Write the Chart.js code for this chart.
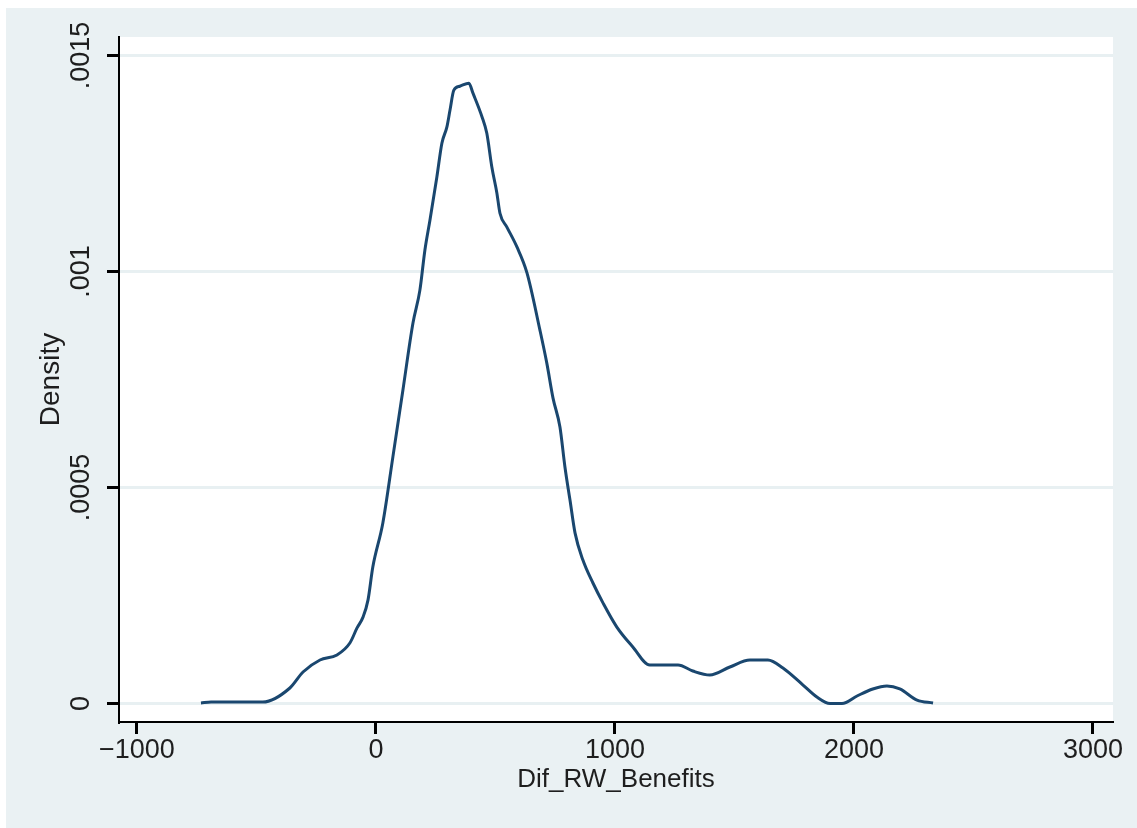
<!DOCTYPE html>
<html>
<head>
<meta charset="utf-8">
<script src="https://cdn.jsdelivr.net/npm/chart.js@4/dist/chart.umd.min.js"></script>
<style>
  html, body { margin: 0; padding: 0; background: #ffffff; }
  #frame { position: absolute; left: 6px; top: 8px; width: 1131px; height: 820px; background: #eaf1f3; }
  canvas { display: block; }
</style>
</head>
<body>
<div id="frame"><canvas id="densityChart" width="1131" height="820"></canvas></div>
<script>
// Densidade (kernel)
const densityX = [-732, -690, -473, -360, -305, -234, -163, -109, -79, -54,
    -33, -13, 29, 71, 113, 155, 184, 205, 226, 255,
    276, 297, 310, 326, 351, 389, 406, 444, 464, 485,
    506, 519, 548, 590, 632, 686, 715, 741, 770, 791,
    812, 833, 866, 908, 950, 1008, 1075, 1146, 1264, 1326,
    1397, 1481, 1565, 1640, 1703, 1787, 1845, 1900, 1950, 2013,
    2079, 2138, 2192, 2264, 2331];
const densityY = [0.0000012, 0.0000035, 0.0000035, 0.0000359, 0.0000729, 0.0001007, 0.0001123, 0.00014, 0.000175, 0.0002,
    0.00024, 0.000316, 0.000418, 0.000571, 0.000726, 0.000881, 0.000957, 0.00105, 0.001119, 0.001219,
    0.001297, 0.001335, 0.001374, 0.00142, 0.001429, 0.001436, 0.001413, 0.001358, 0.00132, 0.001242,
    0.001182, 0.001135, 0.001103, 0.001057, 0.000997, 0.000865, 0.000788, 0.000707, 0.00064, 0.000547,
    0.000471, 0.000395, 0.000332, 0.000279, 0.000233, 0.000177, 0.000131, 0.0000891, 0.0000891, 0.0000752,
    0.000066, 0.0000845, 0.0001007, 0.0001007, 0.0000822, 0.0000428, 0.000015, 0, 0, 0.0000174,
    0.0000336, 0.0000405, 0.0000336, 0.0000081, 0.0000012];

const xTicks = [-1000, 0, 1000, 2000, 3000];
const xTickLabels = ['\u22121000', '0', '1000', '2000', '3000'];
const yTicks = [0, 0.0005, 0.001, 0.0015];
const yTickLabels = ['0', '.0005', '.001', '.0015'];

const xTitle = 'Dif_RW_Benefits';
const yTitle = 'Density';

const gridColor = '#e8f0f2';
const lineColor = '#1a476f';
const textColor = '#1e1e1e';

// fundo branco só na área do gráfico
const plotBackground = {
    id: 'plotBackground',
    beforeDraw(chart) {
        const { ctx, chartArea } = chart;
        ctx.save();
        ctx.fillStyle = '#ffffff';
        ctx.fillRect(chartArea.left, chartArea.top, chartArea.right - chartArea.left, chartArea.bottom - chartArea.top);
        ctx.restore();
    }
};

const ctx = document.getElementById('densityChart').getContext('2d');
const chart = new Chart(ctx, {
    type: 'scatter',
    data: {
        datasets: [{
            label: yTitle,
            data: densityX.map((x, i) => ({ x: x, y: densityY[i] })),
            showLine: true,
            borderColor: lineColor,
            borderWidth: 3,
            pointRadius: 0,
            cubicInterpolationMode: 'monotone',
            fill: false
        }]
    },
    options: {
        responsive: false,
        animation: false,
        layout: { padding: { left: 0, top: 29, right: 24, bottom: 0 } },
        plugins: {
            legend: { display: false },
            tooltip: { enabled: false }
        },
        scales: {
            x: {
                type: 'linear',
                min: -1075,
                max: 3084,
                afterFit: (scale) => { scale.height = 106; },
                afterBuildTicks: (scale) => { scale.ticks = xTicks.map(v => ({ value: v })); },
                border: { display: true, color: '#000000', width: 2 },
                grid: { drawOnChartArea: false, tickColor: '#000000', tickLength: 12, tickWidth: 3 },
                ticks: {
                    color: textColor,
                    font: { family: 'Liberation Sans, Arial, sans-serif', size: 27 },
                    padding: 0,
                    maxRotation: 0,
                    callback: (value) => xTickLabels[xTicks.indexOf(value)]
                },
                title: {
                    display: true,
                    text: xTitle,
                    color: textColor,
                    font: { family: 'Liberation Sans, Arial, sans-serif', size: 26 },
                    padding: { top: 33, bottom: 33 }
                }
            },
            y: {
                type: 'linear',
                min: -0.0000428,
                max: 0.001543,
                afterFit: (scale) => { scale.width = 113; },
                afterBuildTicks: (scale) => { scale.ticks = yTicks.map(v => ({ value: v })); },
                border: { display: true, color: '#000000', width: 2 },
                grid: { color: gridColor, lineWidth: 3, tickColor: '#000000', tickLength: 12, tickWidth: 3 },
                ticks: {
                    color: textColor,
                    font: { family: 'Liberation Sans, Arial, sans-serif', size: 27 },
                    crossAlign: 'center',
                    minRotation: 90,
                    maxRotation: 90,
                    padding: -8,
                    callback: (value) => yTickLabels[yTicks.indexOf(value)]
                },
                title: {
                    display: true,
                    text: yTitle,
                    color: textColor,
                    font: { family: 'Liberation Sans, Arial, sans-serif', size: 28 },
                    padding: { top: 28, bottom: 28 }
                }
            }
        }
    },
    plugins: [plotBackground]
});
</script>
</body>
</html>
